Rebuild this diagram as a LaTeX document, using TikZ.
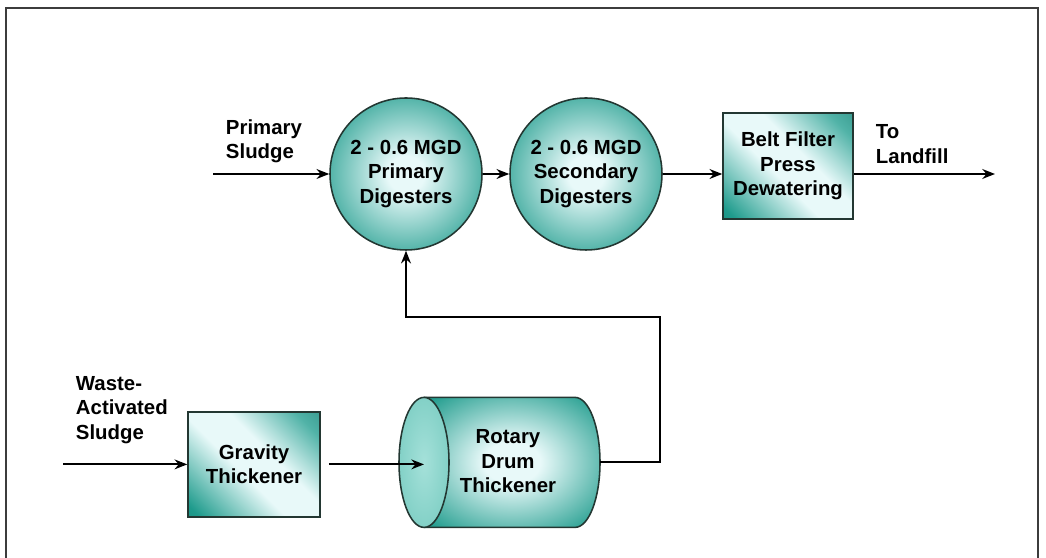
\documentclass[tikz,border=0pt]{standalone}
\usepackage{fontspec}
\setmainfont{Liberation Sans}
\usepackage{xcolor}
\usepackage{tikz}
\usetikzlibrary{arrows.meta, calc, positioning}
\tikzset{>={Stealth[length=9pt,width=7pt]}}
\definecolor{sludgeteal}{RGB}{30,155,140}
\definecolor{deepteal}{RGB}{20,120,108}
\definecolor{paleteal}{RGB}{232,249,249}
\definecolor{faceteal}{RGB}{110,205,192}
\definecolor{rimdark}{RGB}{35,55,50}
\definecolor{framegray}{RGB}{60,60,60}
\pgfdeclareradialshading{digestershade}{\pgfpoint{0bp}{0bp}}{color(0bp)=(paleteal); color(6bp)=(paleteal); color(32bp)=(sludgeteal); color(50bp)=(deepteal)}
\pgfdeclareverticalshading{unitshade}{100bp}{color(0bp)=(deepteal); color(18bp)=(sludgeteal); color(44bp)=(paleteal); color(58bp)=(paleteal); color(78bp)=(sludgeteal!75!paleteal); color(100bp)=(deepteal)}
\pgfdeclareradialshading{drumshade}{\pgfpoint{0bp}{0bp}}{color(0bp)=(paleteal); color(8bp)=(paleteal); color(34bp)=(sludgeteal); color(50bp)=(deepteal)}
\pgfdeclareradialshading{faceshade}{\pgfpoint{0bp}{0bp}}{color(0bp)=(faceteal!55!paleteal); color(50bp)=(faceteal!85!deepteal)}

\begin{document}
\begin{tikzpicture}[line width=1.4pt,
    every node/.style={font=\fontsize{14.5}{17.5}\selectfont\bfseries, align=center},
    digester/.style={circle, draw=rimdark, line width=1.1pt, shading=digestershade, minimum size=3.8cm, inner sep=0pt},
    unitbox/.style={rectangle, draw=rimdark, line width=1.1pt, shading=unitshade, shading angle=-45},
    flowlabel/.style={align=left, anchor=west, inner sep=0pt}]
\useasboundingbox (0,0) rectangle (26.15,13.95);
\draw [line width=0.9pt, framegray] (0.15,-0.3) |- (25.95,13.75) -- (25.95,-0.3);

\node [digester] (prim) at (10.15,9.6) {2 - 0.6 MGD\\Primary\\Digesters};
\node [digester] (sec) at (14.65,9.6) {2 - 0.6 MGD\\Secondary\\Digesters};
\node [unitbox, minimum width=3.25cm, minimum height=2.65cm] (belt) at (19.7,9.8) {Belt Filter\\Press\\Dewatering};
\node [unitbox, minimum width=3.3cm, minimum height=2.625cm] (grav) at (6.35,2.34) {Gravity\\Thickener};

\coordinate (front) at (10.6,2.39);
\coordinate (back) at (14.375,2.39);
\coordinate (drumout) at (15.0,2.39);
\shade [shading=drumshade] ($(front)+(0,1.625)$) -- ($(back)+(0,1.625)$) arc [start angle=90, end angle=-90, x radius=0.625, y radius=1.625] -- ($(front)+(0,-1.625)$) -- cycle;
\draw [rimdark, line width=1.1pt] ($(front)+(0,1.625)$) -- ($(back)+(0,1.625)$) arc [start angle=90, end angle=-90, x radius=0.625, y radius=1.625] -- ($(front)+(0,-1.625)$);
\shade [shading=faceshade] (front) ellipse [x radius=0.625, y radius=1.625];
\draw [rimdark, line width=1.1pt] (front) ellipse [x radius=0.625, y radius=1.625];
\node (drum) at (12.7,2.42) {Rotary\\Drum\\Thickener};

\node [flowlabel] (psl) at (5.625,10.42) {Primary\\Sludge};
\node [flowlabel] (lfl) at (21.875,10.35) {To\\Landfill};
\node [flowlabel] (wasl) at (1.875,3.7) {Waste-\\Activated\\Sludge};

\coordinate (pin) at (5.325,9.6);
\coordinate (lfend) at (24.875,9.6);
\coordinate (win) at (1.575,2.34);
\coordinate (ret) at (16.5,6.025);

\draw [->] (pin) -- (prim.west);
\draw [->] (prim.east) -- (sec.west);
\draw [->] (sec.east) -- (sec.east -| belt.west);
\draw [->] (belt.east |- sec.east) -- (lfend);
\draw [->] (win) -- (grav.west);
\draw [->] ([xshift=0.2cm]grav.east) -- (grav.east -| front);
\draw [->] (drumout) -| (ret) -| (prim.south);
\end{tikzpicture}
\end{document}
